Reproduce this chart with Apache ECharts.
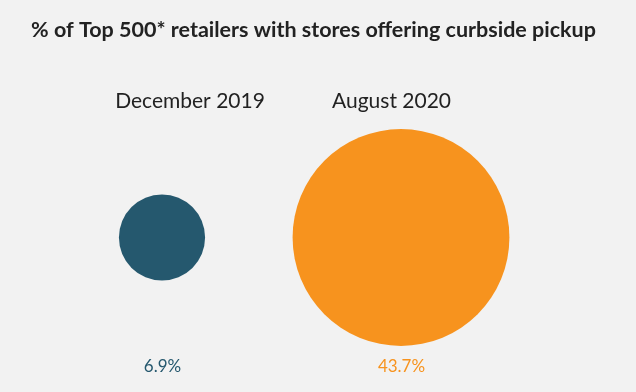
<!DOCTYPE html>
<html>
<head>
<meta charset="utf-8">
<script src="https://cdn.jsdelivr.net/npm/echarts@6/dist/echarts.min.js"></script>
<style>
html,body{margin:0;padding:0;background:#f2f2f2;}
#c{width:636px;height:392px;}
</style>
</head>
<body>
<div id="c"></div>
<script>
const titleText = "% of Top 500* retailers with stores offering curbside pickup";
const categories = ["December 2019", "August 2020"];
const values = [6.9, 43.7];
const valueLabels = ["6.9%", "43.7%"];
const colors = ["#25586e", "#f7931e"];

const chart = echarts.init(document.getElementById('c'), null, {renderer: 'canvas'});
const K = 32.8; // diameter per sqrt(value), area-proportional
const font = "Lato, 'Noto Sans', sans-serif";

chart.setOption({
  backgroundColor: '#f2f2f2',
  animation: false,
  grid: {left: 42.5, right: 115.5, top: 137.5, bottom: 54.5},
  xAxis: {type: 'category', data: categories, show: false},
  yAxis: {type: 'value', min: -1, max: 1, show: false},
  graphic: [
    {type: 'text', x: 313.5, y: 30, style: {text: titleText, font: "bold 21.5px " + font, fill: '#222222', textAlign: 'center', textVerticalAlign: 'middle'}},
    {type: 'text', x: 190, y: 101, style: {text: categories[0], font: "21px " + font, fill: '#222222', textAlign: 'center', textVerticalAlign: 'middle'}},
    {type: 'text', x: 391.5, y: 101, style: {text: categories[1], font: "21px " + font, fill: '#222222', textAlign: 'center', textVerticalAlign: 'middle'}},
    {type: 'text', x: 162.5, y: 367, style: {text: valueLabels[0], font: "17px " + font, fill: colors[0], textAlign: 'center', textVerticalAlign: 'middle'}},
    {type: 'text', x: 401.5, y: 367, style: {text: valueLabels[1], font: "17px " + font, fill: colors[1], textAlign: 'center', textVerticalAlign: 'middle'}}
  ],
  series: [{
    type: 'scatter',
    data: values.map((v, i) => ({value: [categories[i], 0], itemStyle: {color: colors[i], opacity: 1}})),
    symbol: 'circle',
    symbolSize: (val, p) => K * Math.sqrt(values[p.dataIndex]),
    label: {show: false}
  }]
});
</script>
</body>
</html>
